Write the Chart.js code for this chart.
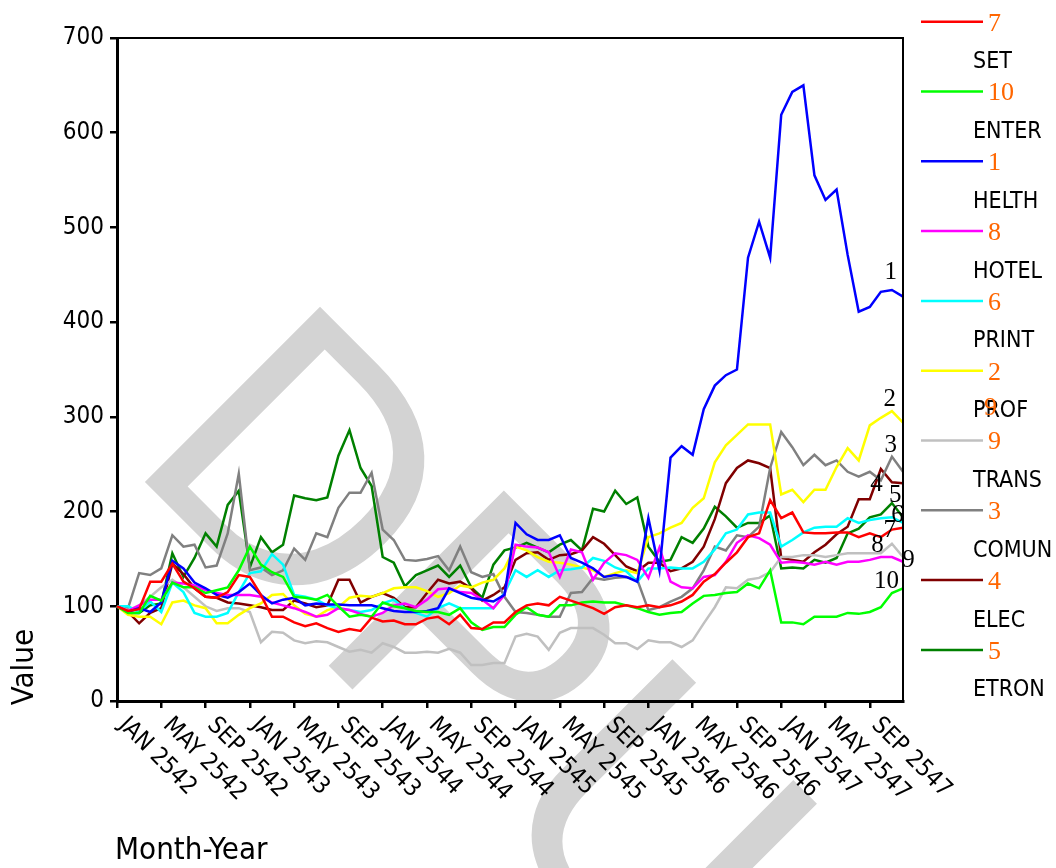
<!DOCTYPE html>
<html><head><meta charset="utf-8">
<script src="https://cdn.jsdelivr.net/npm/chart.js@4"></script>
<style>html,body{margin:0;padding:0;background:#fff}#wrap{width:1056px;height:868px;position:relative}</style>
</head><body><div id="wrap"><canvas id="c" width="1056" height="868"></canvas></div>
<script>
const monthNames = ['JAN','FEB','MAR','APR','MAY','JUN','JUL','AUG','SEP','OCT','NOV','DEC'];
const years = [2542, 2543, 2544, 2545, 2546, 2547];
const categories = [];
years.forEach(y => monthNames.forEach(m => categories.push(m + ' ' + y)));
const tickLabels = ['JAN 2542','MAY 2542','SEP 2542','JAN 2543','MAY 2543','SEP 2543','JAN 2544','MAY 2544','SEP 2544',
  'JAN 2545','MAY 2545','SEP 2545','JAN 2546','MAY 2546','SEP 2546','JAN 2547','MAY 2547','SEP 2547'];
const yTicks = [0, 100, 200, 300, 400, 500, 600, 700];

const SET = [100,95,97,126,126,145,126,119,110,109, 115,133,131,112,89,89,83,79,82,77, 73,76,74,88,84,85,81,81,87,89, 81,91,77,76,83,83,94,101,103,101, 110,106,102,98,92,99,101,99,101,99, 101,105,112,126,134,146,157,173,177,212, 193,199,178,177,177,178,178,173,177,173,181,183];
const ENTER = [100,93,93,111,106,125,120,120,114,117, 120,138,163,144,136,131,110,109,107,112, 100,89,91,89,104,100,98,95,94,94, 91,98,83,75,78,78,91,99,91,89, 101,101,104,105,104,104,101,98,94,91, 93,94,103,111,112,114,115,124,119,138, 83,83,81,89,89,89,93,92,94,99,114,119];
const HELTH = [100,94,98,94,104,148,140,125,119,112, 109,115,124,112,103,107,109,101,103,102, 102,101,101,101,98,95,94,94,95,98, 119,114,109,107,105,112,188,176,170,170, 175,151,146,140,131,133,131,126,193,138, 257,269,260,308,333,344,350,468,506,468, 619,643,650,555,529,540,471,411,416,432,434,427];
const HOTEL = [100,95,101,107,107,125,124,122,117,114, 112,112,112,110,104,101,98,94,89,91, 98,96,92,89,93,101,103,99,107,118, 119,115,114,107,98,112,165,163,162,157, 131,160,157,128,146,156,154,149,130,162, 126,120,119,131,133,147,167,175,172,165, 146,147,146,144,147,144,147,147,149,152,152,147];
const PRINT = [100,100,94,105,94,125,115,93,89,89, 93,115,135,137,155,144,112,110,107,101, 98,96,94,96,103,107,98,93,89,98, 103,98,98,98,98,114,138,131,138,131, 138,139,141,151,148,141,137,126,140,140, 141,140,140,147,160,177,181,197,199,199, 163,170,178,183,184,184,193,188,191,193,194,188];
const PROF = [100,91,89,89,81,104,106,101,98,82, 82,91,98,103,112,113,101,92,89,96, 99,109,111,110,114,119,120,120,116,110, 114,122,120,125,128,140,163,159,152,147, 146,144,141,138,131,135,138,135,173,177, 183,188,204,214,252,270,281,292,292,292, 218,223,210,223,223,247,267,254,291,299,306,294];
const TRANS = [100,96,101,110,120,128,120,110,100,95, 98,98,94,62,73,72,64,61,63,62, 57,52,54,51,61,57,51,51,52,51, 55,51,38,38,40,40,68,71,68,54, 72,77,77,77,70,61,61,55,64,62, 62,57,64,82,99,120,119,128,130,136, 152,152,154,154,152,154,156,156,156,156,166,152];
const COMUN = [100,98,135,133,140,175,163,165,141,143, 177,240,138,141,133,138,161,149,177,173, 204,220,220,241,181,170,149,148,150,153, 138,163,136,131,134,110,94,93,91,89, 89,114,115,130,128,130,131,128,96,99, 105,110,119,138,163,159,175,173,184,246, 284,268,249,260,249,254,242,237,242,233,258,242];
const ELEC = [100,94,82,93,98,145,134,119,110,109, 104,103,101,99,96,96,106,103,99,101, 128,128,104,110,114,109,99,99,114,128, 124,126,119,106,112,120,149,156,157,149, 154,155,159,173,166,154,142,137,146,146, 137,140,147,163,192,230,246,254,251,246, 151,149,147,157,165,176,184,213,213,245,231,230];
const ETRON = [100,93,93,101,103,156,131,151,177,163, 207,222,141,173,157,165,217,214,212,215, 259,286,246,227,152,146,121,133,138,143, 131,143,120,109,144,159,162,167,162,157, 165,170,159,203,200,222,208,215,163,147, 149,173,167,182,205,195,183,188,188,196, 140,141,140,149,146,151,177,182,194,197,209,194];

const seriesNames  = ['SET','ENTER','HELTH','HOTEL','PRINT','PROF','TRANS','COMUN','ELEC','ETRON'];
const seriesMarks  = ['7','10','1','8','6','2','9','3','4','5'];
const seriesValues = [SET, ENTER, HELTH, HOTEL, PRINT, PROF, TRANS, COMUN, ELEC, ETRON];
const seriesColors = ['#ff0000','#00ff00','#0000ff','#ff00ff','#00ffff','#ffff00','#c0c0c0','#808080','#800000','#008000'];

// end-of-line number labels, placed in data units [index, value]
const endLabels = [
  ['1', 69.9, 453], ['2', 69.8, 318], ['3', 69.9, 270], ['4', 68.6, 229], ['5', 70.3, 217],
  ['6', 70.5, 196], ['7', 69.8, 180], ['8', 68.7, 164], ['9', 71.5, 148], ['10', 69.5, 126]
];

const SANS = "'DejaVu Sans Condensed','DejaVu Sans',sans-serif";
const SERIF = "'Liberation Serif','DejaVu Serif',serif";

const decor = {
  id: 'decor',
  beforeDraw(chart) {
    const ctx = chart.ctx;
    ctx.save();
    ctx.fillStyle = '#d3d3d3';
    ctx.translate(124, 461);
    ctx.rotate(Math.PI / 4);
    ctx.font = "360px 'Liberation Sans', Arial, sans-serif";
    ctx.textBaseline = 'alphabetic';
    ctx.textAlign = 'left';
    ctx.fillText('DPU', 0, 0);
    ctx.restore();
  },
  afterDraw(chart) {
    const ctx = chart.ctx;
    const xs = chart.scales.x, ys = chart.scales.y;
    const a = chart.chartArea;
    ctx.save();
    // frame top and right
    ctx.strokeStyle = '#000';
    ctx.lineWidth = 2;
    ctx.beginPath();
    ctx.moveTo(a.left, a.top); ctx.lineTo(a.right, a.top); ctx.lineTo(a.right, a.bottom);
    ctx.stroke();
    // x tick labels rotated clockwise
    ctx.fillStyle = '#000';
    ctx.font = '24px ' + SANS;
    ctx.textAlign = 'left';
    ctx.textBaseline = 'alphabetic';
    tickLabels.forEach((lab, k) => {
      const x = xs.getPixelForTick(k * 4);
      ctx.save();
      ctx.translate(x + 1, a.bottom + 25);
      ctx.rotate(Math.PI / 4);
      ctx.fillText(lab, 0, 0);
      ctx.restore();
    });
    // axis titles
    ctx.font = '31px ' + SANS;
    ctx.textAlign = 'left';
    ctx.fillText('Month-Year', 115, 859);
    ctx.save();
    ctx.translate(25, 667);
    ctx.rotate(-Math.PI / 2);
    ctx.textAlign = 'center';
    ctx.textBaseline = 'middle';
    ctx.fillText('Value', 0, 0);
    ctx.restore();
    // end labels
    ctx.font = '25px ' + SERIF;
    ctx.textAlign = 'center';
    ctx.textBaseline = 'middle';
    endLabels.forEach(([t, i, v]) => {
      ctx.fillText(t, xs.getPixelForValue(i), ys.getPixelForValue(v));
    });
    // legend
    seriesNames.forEach((name, k) => {
      const ly = 21.7 + 69.8 * k;
      ctx.strokeStyle = seriesColors[k];
      ctx.lineWidth = 2.5;
      ctx.beginPath();
      ctx.moveTo(921, ly); ctx.lineTo(983, ly);
      ctx.stroke();
      ctx.fillStyle = '#ff6600';
      ctx.font = '26px ' + SERIF;
      ctx.textAlign = 'left';
      ctx.textBaseline = 'middle';
      ctx.fillText(seriesMarks[k], 988, ly + 2);
      ctx.fillStyle = '#000';
      ctx.font = '23px ' + SANS;
      ctx.fillText(name, 973, ly + 40.5);
    });
    ctx.fillStyle = '#ff6600';
    ctx.font = '26px ' + SERIF;
    ctx.fillText('9', 984, 408);
    ctx.restore();
  }
};

new Chart(document.getElementById('c'), {
  type: 'line',
  data: {
    labels: categories,
    datasets: seriesNames.map((n, k) => ({
      label: n,
      data: seriesValues[k],
      borderColor: seriesColors[k],
      backgroundColor: seriesColors[k],
      borderWidth: 2.5,
      pointRadius: 0,
      tension: 0,
      fill: false
    }))
  },
  options: {
    responsive: false,
    devicePixelRatio: 1,
    animation: false,
    layout: { padding: { top: 38, right: 153, left: 0, bottom: 0 } },
    plugins: { legend: { display: false }, tooltip: { enabled: false }, title: { display: false } },
    scales: {
      x: {
        type: 'category',
        offset: false,
        grid: { drawOnChartArea: false, drawTicks: true, tickLength: 7, lineWidth: 2.5,
                color: (c) => (c.index % 4 === 0 ? '#000' : 'rgba(0,0,0,0)') },
        border: { display: true, color: '#000', width: 3 },
        ticks: { display: false, autoSkip: false },
        afterFit: (s) => { s.height = 167; }
      },
      y: {
        min: 0, max: 700,
        afterBuildTicks: (s) => { s.ticks = yTicks.map(v => ({ value: v })); },
        grid: { drawOnChartArea: false, drawTicks: true, tickLength: 7, lineWidth: 2.5, color: '#000' },
        border: { display: true, color: '#000', width: 3 },
        ticks: { color: '#000', font: { family: SANS, size: 24 }, padding: 6 },
        afterFit: (s) => { s.width = 117; }
      }
    }
  },
  plugins: [decor]
});
</script></body></html>
